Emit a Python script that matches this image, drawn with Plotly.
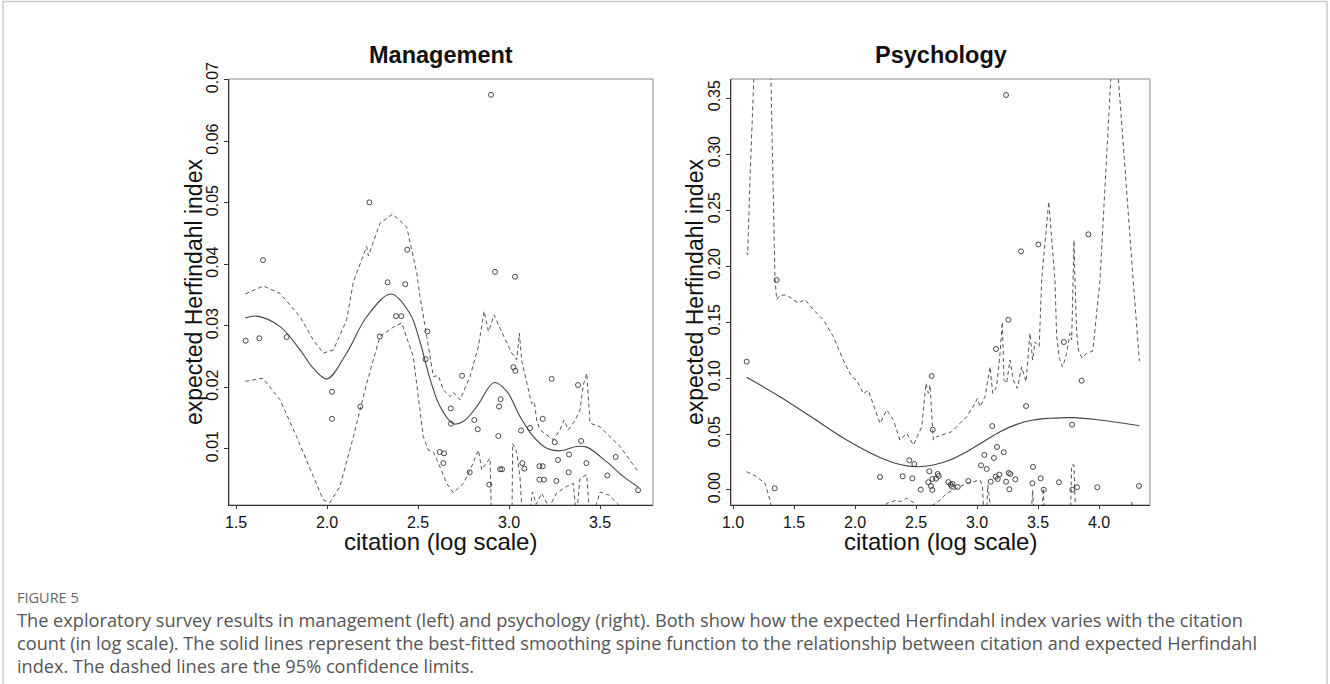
import plotly.graph_objects as go

# ---------------- data: Management (left) ----------------
mgmt_pts_x = [1.553, 1.628, 1.648, 1.778, 2.027, 2.027, 2.183, 2.233, 2.29, 2.333, 2.379, 2.408, 2.43, 2.441,
              2.551, 2.542, 2.742, 2.901, 2.923, 3.033, 3.024, 3.035, 3.234, 3.379, 2.954, 2.945, 2.68, 2.681,
              2.809, 2.828, 2.941, 3.066, 3.115, 3.185, 3.251, 3.396, 3.586, 2.619, 2.643, 2.639, 2.784, 2.951,
              2.962, 2.892, 3.073, 3.084, 3.167, 3.185, 3.269, 3.33, 3.425, 3.167, 3.192, 3.26, 3.328, 3.54, 3.709]
mgmt_pts_y = [0.0276, 0.0280, 0.0407, 0.0282, 0.0193, 0.0149, 0.0169, 0.0501, 0.0283, 0.0371, 0.0316, 0.0316,
              0.0368, 0.0424, 0.0291, 0.0246, 0.0219, 0.0676, 0.0388, 0.0380, 0.0233, 0.0227, 0.0214, 0.0204,
              0.0181, 0.0169, 0.0166, 0.0141, 0.0147, 0.0132, 0.0121, 0.0130, 0.0134, 0.0149, 0.0111, 0.0113,
              0.0087, 0.0095, 0.0093, 0.0077, 0.0062, 0.0067, 0.0067, 0.0042, 0.0077, 0.0068, 0.0072, 0.0072,
              0.0082, 0.0091, 0.0077, 0.0050, 0.0050, 0.0048, 0.0062, 0.0057, 0.0033]

mgmt_fit_x = [1.551, 1.614, 1.742, 1.852, 1.925, 2.0, 2.108, 2.218, 2.352, 2.456, 2.511, 2.566, 2.621, 2.694,
              2.75, 2.823, 2.918, 2.987, 3.06, 3.134, 3.207, 3.28, 3.372, 3.427, 3.537, 3.629, 3.71]
mgmt_fit_y = [0.0313, 0.0316, 0.0299, 0.0261, 0.0231, 0.0214, 0.0256, 0.0315, 0.0352, 0.0320, 0.0274, 0.0214,
              0.0169, 0.0141, 0.0145, 0.0169, 0.0208, 0.0194, 0.0153, 0.0120, 0.0101, 0.0097, 0.0104, 0.0103,
              0.0079, 0.0055, 0.0038]

mgmt_up_x = [1.551, 1.65, 1.742, 1.852, 1.925, 1.98, 2.035, 2.108, 2.145, 2.218, 2.227, 2.245, 2.291, 2.361,
             2.438, 2.493, 2.511, 2.548, 2.584, 2.612, 2.639, 2.676, 2.694, 2.731, 2.786, 2.832, 2.863, 2.887,
             2.918, 2.951, 3.015, 3.042, 3.057, 3.069, 3.097, 3.124, 3.139, 3.152, 3.17, 3.216, 3.243, 3.28,
             3.302, 3.326, 3.363, 3.39, 3.408, 3.427, 3.445, 3.5, 3.61, 3.71]
mgmt_up_y = [0.0352, 0.0365, 0.0353, 0.0315, 0.0277, 0.0256, 0.0261, 0.0310, 0.0372, 0.0429, 0.0414, 0.0429,
             0.0467, 0.0482, 0.0461, 0.0386, 0.0348, 0.0283, 0.0218, 0.0219, 0.0196, 0.0185, 0.0192, 0.0180,
             0.0218, 0.0267, 0.0324, 0.0291, 0.0318, 0.0296, 0.0256, 0.0245, 0.0288, 0.0245, 0.0207, 0.0174,
             0.0177, 0.0147, 0.0131, 0.0120, 0.0115, 0.0131, 0.0147, 0.0131, 0.0147, 0.0163, 0.0204, 0.0223,
             0.0142, 0.0136, 0.0104, 0.0063]

mgmt_lo_x = [1.551, 1.647, 1.742, 1.833, 1.925, 1.98, 2.016, 2.071, 2.145, 2.218, 2.291, 2.364, 2.41, 2.474,
             2.529, 2.557, 2.584, 2.612, 2.657, 2.694, 2.75, 2.795, 2.832, 2.85, 2.87, 2.896, 2.905, 2.96,
             3.016, 3.02, 3.042, 3.06, 3.075, 3.11, 3.129, 3.15, 3.179, 3.22, 3.261, 3.316, 3.353, 3.37,
             3.39, 3.427, 3.445, 3.46, 3.5, 3.55, 3.592, 3.65, 3.71]
mgmt_lo_y = [0.0210, 0.0215, 0.0180, 0.0120, 0.0055, 0.0017, 0.0013, 0.0039, 0.0120, 0.0207, 0.0283, 0.0298,
             0.0305, 0.0250, 0.0120, 0.0098, 0.0095, 0.0077, 0.0044, 0.0029, 0.0044, 0.0072, 0.0098, 0.0066,
             0.0075, 0.0085, -0.004, -0.006, -0.002, 0.0109, 0.0095, 0.0055, -0.002, -0.001, 0.0030, 0.0010,
             0.0028, 0.0005, 0.0028, 0.0039, 0.0044, -0.001, 0.0052, 0.0058, -0.002, -0.001, 0.0030, 0.0025,
             0.0012, -0.0005, -0.002]

# ---------------- data: Psychology (right) ----------------
psy_pts_x = [1.112, 1.358, 1.342, 2.205, 2.391, 2.445, 3.238, 3.361, 3.503, 3.913, 2.629, 3.257, 3.156, 3.711,
             3.858, 3.402, 3.125, 3.779, 2.637, 2.486, 2.47, 2.539, 2.609, 2.601, 2.623, 2.634, 2.634, 2.664,
             2.678, 2.686, 2.765, 2.784, 2.8, 2.795, 2.842, 2.929, 3.033, 3.06, 3.079, 3.112, 3.139, 3.164,
             3.153, 3.17, 3.183, 3.219, 3.238, 3.26, 3.273, 3.265, 3.314, 3.459, 3.454, 3.522, 3.547, 3.672,
             3.781, 3.82, 3.986, 4.328]
psy_pts_y = [0.1146, 0.1875, 0.0015, 0.0116, 0.0122, 0.0265, 0.3527, 0.2131, 0.2193, 0.2283, 0.1018, 0.1520,
             0.1259, 0.1321, 0.0976, 0.0750, 0.0571, 0.0583, 0.0538, 0.0232, 0.0104, 0.0003, 0.0167, 0.0069,
             0.0036, 0.0098, 0.0000, 0.0101, 0.0143, 0.0125, 0.0071, 0.0047, 0.0054, 0.0030, 0.0027, 0.0080,
             0.0220, 0.0313, 0.0188, 0.0074, 0.0286, 0.0384, 0.0119, 0.0098, 0.0137, 0.0337, 0.0074, 0.0152,
             0.0143, 0.0006, 0.0095, 0.0205, 0.0060, 0.0104, 0.0003, 0.0069, 0.0003, 0.0024, 0.0024, 0.0036]

psy_fit_x = [1.112, 1.385, 1.658, 1.932, 2.205, 2.369, 2.506, 2.642, 2.779, 2.916, 3.052, 3.189, 3.325, 3.461,
             3.598, 3.789, 4.008, 4.172, 4.331]
psy_fit_y = [0.1006, 0.0833, 0.0640, 0.0446, 0.0290, 0.0228, 0.0208, 0.0223, 0.0268, 0.0342, 0.0431, 0.0521,
             0.0586, 0.0625, 0.0640, 0.0646, 0.0625, 0.0601, 0.0574]

psy_up_x = [1.112, 1.12, 1.14, 1.167, 1.2, 1.28, 1.311, 1.344, 1.358, 1.385, 1.44, 1.494, 1.535, 1.59, 1.658,
            1.74, 1.822, 1.904, 1.973, 2.014, 2.068, 2.109, 2.15, 2.205, 2.26, 2.314, 2.369, 2.424, 2.478,
            2.519, 2.547, 2.582, 2.601, 2.615, 2.629, 2.642, 2.67, 2.752, 2.793, 2.861, 2.916, 2.984, 3.003,
            3.025, 3.066, 3.107, 3.129, 3.161, 3.189, 3.207, 3.221, 3.243, 3.27, 3.298, 3.331, 3.366, 3.402,
            3.434, 3.456, 3.475, 3.51, 3.53, 3.588, 3.639, 3.653, 3.675, 3.702, 3.735, 3.762, 3.776, 3.79,
            3.795, 3.803, 3.817, 3.832, 3.86, 3.9, 3.949, 4.008, 4.096, 4.13, 4.16, 4.28, 4.331]
psy_up_y = [0.212, 0.210, 0.280, 0.367, 0.450, 0.450, 0.367, 0.189, 0.170, 0.174, 0.174, 0.170, 0.167, 0.170,
            0.161, 0.152, 0.137, 0.116, 0.101, 0.098, 0.086, 0.089, 0.077, 0.0595, 0.0714, 0.0625, 0.0446,
            0.0506, 0.0402, 0.0491, 0.0565, 0.0953, 0.0863, 0.0938, 0.0625, 0.0446, 0.0476, 0.0506, 0.0521,
            0.0595, 0.0655, 0.0774, 0.0818, 0.0744, 0.0833, 0.110, 0.0863, 0.0922, 0.122, 0.150, 0.098,
            0.0952, 0.116, 0.098, 0.0908, 0.110, 0.0967, 0.140, 0.116, 0.132, 0.128, 0.1875, 0.2574, 0.1875,
            0.137, 0.1176, 0.110, 0.122, 0.140, 0.134, 0.196, 0.223, 0.1875, 0.140, 0.125, 0.118, 0.122,
            0.124, 0.1875, 0.366, 0.400, 0.366, 0.1875, 0.115]

psy_lo_x = [1.112, 1.194, 1.262, 1.303, 1.33, 2.2, 2.26, 2.342, 2.369, 2.424, 2.478, 2.55, 2.697, 2.752, 2.834,
            2.916, 2.97, 3.025, 3.045, 3.06, 3.075, 3.088, 3.1, 3.12, 3.44, 3.456, 3.47, 3.53, 3.543, 3.556,
            3.765, 3.776, 3.795, 3.81, 4.26, 4.27, 4.28, 4.331]
psy_lo_y = [0.0164, 0.0119, 0.0060, -0.009, -0.03, -0.03, -0.012, -0.009, -0.0104, -0.0074, -0.011, -0.02,
            -0.009, -0.003, 0.0015, 0.0060, 0.0074, 0.0089, 0.0030, -0.03, -0.03, 0.0045, -0.005, -0.03, -0.03,
            0.0000, -0.03, -0.03, 0.0015, -0.03, -0.03, 0.0223, 0.0223, -0.03, -0.03, -0.0104, -0.03, -0.03]

mgmt_xticks = [1.5, 2.0, 2.5, 3.0, 3.5]
mgmt_yticks = [0.01, 0.02, 0.03, 0.04, 0.05, 0.06, 0.07]
psy_xticks = [1.0, 1.5, 2.0, 2.5, 3.0, 3.5, 4.0]
psy_yticks = [0.00, 0.05, 0.10, 0.15, 0.20, 0.25, 0.30, 0.35]

panel_titles = ["Management", "Psychology"]
x_title = "citation (log scale)"
y_title = "expected Herfindahl index"
caption_head = "FIGURE 5"
caption_lines = [
    "The exploratory survey results in management (left) and psychology (right). Both show how the expected Herfindahl index varies with the citation",
    "count (in log scale). The solid lines represent the best-fitted smoothing spine function to the relationship between citation and expected Herfindahl",
    "index. The dashed lines are the 95% confidence limits.",
]

# ---------------- layout geometry (pixels) ----------------
W, H = 1330, 684
def px(x):
    return x / W
def py(y):
    return 1 - y / H

TOP, BOT = 79, 505
L1, R1 = 229, 653
L2, R2 = 731, 1150

fig = go.Figure()

LINE_C = "#444444"
DASH_C = "#555555"
DASH = "4px,3px"

def add_panel(xs, ys, fx, fy, ux, uy, lx, ly, xa, ya):
    fig.add_trace(go.Scatter(x=ux, y=uy, mode="lines", line=dict(color=DASH_C, width=1, dash=DASH),
                             xaxis=xa, yaxis=ya, showlegend=False, hoverinfo="skip"))
    fig.add_trace(go.Scatter(x=lx, y=ly, mode="lines", line=dict(color=DASH_C, width=1, dash=DASH),
                             xaxis=xa, yaxis=ya, showlegend=False, hoverinfo="skip"))
    fig.add_trace(go.Scatter(x=fx, y=fy, mode="lines", line=dict(color=LINE_C, width=1.1, shape="spline"),
                             xaxis=xa, yaxis=ya, showlegend=False))
    fig.add_trace(go.Scatter(x=xs, y=ys, mode="markers",
                             marker=dict(symbol="circle-open", size=5, color="#333333", line=dict(width=0.9)),
                             xaxis=xa, yaxis=ya, showlegend=False))

add_panel(mgmt_pts_x, mgmt_pts_y, mgmt_fit_x, mgmt_fit_y, mgmt_up_x, mgmt_up_y, mgmt_lo_x, mgmt_lo_y, "x", "y")
add_panel(psy_pts_x, psy_pts_y, psy_fit_x, psy_fit_y, psy_up_x, psy_up_y, psy_lo_x, psy_lo_y, "x2", "y2")

TICKFONT = dict(family="Liberation Sans, Arial, sans-serif", size=16, color="#111111")

def xaxis_cfg(dom, rng, ticks):
    return dict(domain=dom, range=rng, tickvals=ticks, ticktext=[f"{t:.1f}" for t in ticks],
                showgrid=False, zeroline=False, showline=True, linecolor="#333333", linewidth=1,
                ticks="outside", ticklen=3, tickcolor="#333333", tickfont=TICKFONT, fixedrange=True,
                automargin=False)

def yaxis_cfg(dom, rng, ticks, anchor):
    return dict(domain=dom, range=rng, tickvals=ticks, ticktext=[f"{t:.2f}" for t in ticks],
                showgrid=False, zeroline=False, showline=True, linecolor="#333333", linewidth=1,
                ticks="outside", ticklen=4, tickcolor="#333333", tickfont=TICKFONT, tickangle=-90,
                anchor=anchor, fixedrange=True, automargin=False)

ydom = [py(BOT), py(TOP)]
fig.update_layout(
    width=W, height=H, autosize=False,
    margin=dict(l=0, r=0, t=0, b=0, pad=0, autoexpand=False),
    paper_bgcolor="white", plot_bgcolor="white",
    xaxis=dict(**xaxis_cfg([px(L1), px(R1)], [1.4615, 3.791], mgmt_xticks), anchor="y"),
    yaxis=yaxis_cfg(ydom, [0.00089, 0.07016], mgmt_yticks, "x"),
    xaxis2=dict(**xaxis_cfg([px(L2), px(R2)], [0.9836, 4.418], psy_xticks), anchor="y2"),
    yaxis2=yaxis_cfg(ydom, [-0.0134, 0.367], psy_yticks, "x2"),
)

# frame boxes (top/right in lighter gray) and page border
shapes = []
for (l, r) in [(L1, R1), (L2, R2)]:
    shapes.append(dict(type="rect", xref="paper", yref="paper", x0=px(l), x1=px(r), y0=py(BOT), y1=py(TOP),
                       line=dict(color="#888888", width=1), layer="below"))
shapes.append(dict(type="rect", xref="paper", yref="paper", x0=px(3), x1=px(1327), y0=py(720), y1=py(1.5),
                   line=dict(color="#cccccc", width=1.5), layer="below"))
fig.update_layout(shapes=shapes)

ann = []
TITLE_FONT = dict(family="Liberation Sans, Arial, sans-serif", size=23.5, color="#111111")
LAB_FONT = dict(family="Liberation Sans, Arial, sans-serif", size=24, color="#111111")
YLAB_FONT = dict(family="Liberation Sans, Arial, sans-serif", size=23, color="#111111")
for (l, r), t in zip([(L1, R1), (L2, R2)], panel_titles):
    cx = (l + r) / 2
    ann.append(dict(text=f"<b>{t}</b>", x=px(cx), y=py(55), xref="paper", yref="paper",
                    xanchor="center", yanchor="middle", showarrow=False, font=TITLE_FONT))
    ann.append(dict(text=x_title, x=px(cx), y=py(541), xref="paper", yref="paper",
                    xanchor="center", yanchor="middle", showarrow=False, font=LAB_FONT))
for lx in [194, 695]:
    ann.append(dict(text=y_title, x=px(lx), y=py((TOP + BOT) / 2), xref="paper", yref="paper",
                    xanchor="center", yanchor="middle", showarrow=False, textangle=-90, font=YLAB_FONT))

CAP_FONT = dict(family="Open Sans, Noto Sans, sans-serif", size=18.2, color="#555555")
ann.append(dict(text=caption_head, x=px(15), y=py(597), xref="paper", yref="paper", xanchor="left",
                yanchor="middle", showarrow=False,
                font=dict(family="Open Sans, Noto Sans, sans-serif", size=14.5, color="#666666")))
for i, line in enumerate(caption_lines):
    ann.append(dict(text=line, x=px(15), y=py(620 + 23 * i), xref="paper", yref="paper", xanchor="left",
                    yanchor="middle", showarrow=False, font=CAP_FONT))
fig.update_layout(annotations=ann)

fig.write_html("out.html", config={"displayModeBar": False},
               post_script="document.body.style.margin='0';document.body.style.overflow='hidden';")
